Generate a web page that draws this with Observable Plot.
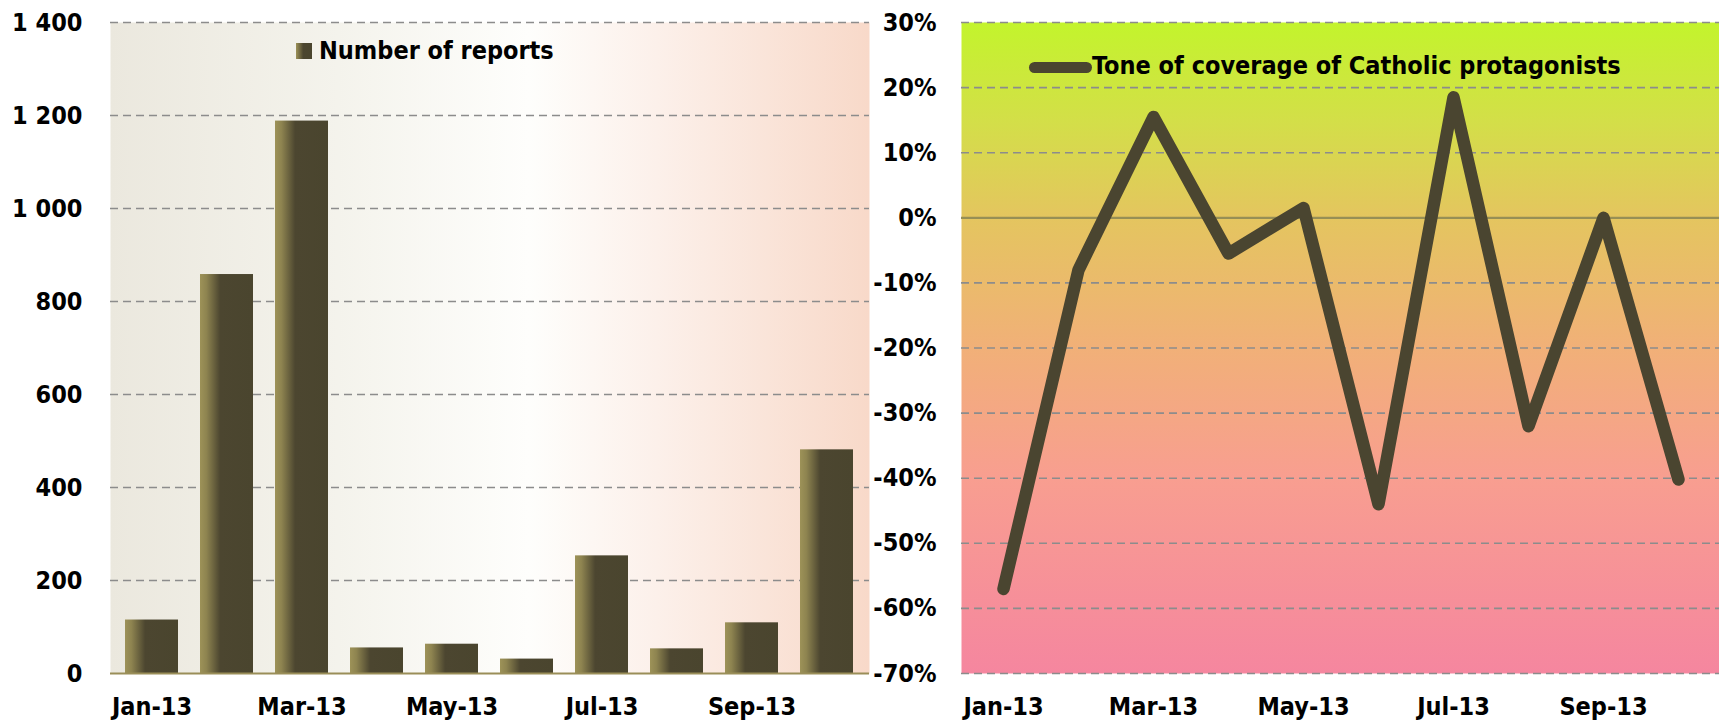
<!DOCTYPE html>
<html>
<head>
<meta charset="utf-8">
<script src="https://cdn.jsdelivr.net/npm/d3@7"></script>
<script src="https://cdn.jsdelivr.net/npm/@observablehq/plot@0.6"></script>
<style>
  html, body { margin: 0; padding: 0; background: #ffffff; }
  #wrap { position: relative; width: 1719px; height: 721px; overflow: hidden; background: #fff; }
  #wrap svg.chart { position: absolute; top: 0; }
  .txt, #wrap svg text {
    font-family: "DejaVu Sans Condensed", "DejaVu Sans", sans-serif;
    font-stretch: condensed;
    font-weight: bold;
    font-size: 25px;
    fill: #000;
    color: #000;
  }
  .leg { position: absolute; white-space: nowrap; line-height: 25px; }
</style>
</head>
<body>
<div id="wrap">
  <svg width="0" height="0" style="position:absolute">
    <defs>
      <linearGradient id="barGrad" x1="0" y1="0" x2="1" y2="0">
        <stop offset="0" stop-color="#9D9258"/>
        <stop offset="0.12" stop-color="#8E8450"/>
        <stop offset="0.38" stop-color="#4C4630"/>
        <stop offset="1" stop-color="#4A452E"/>
      </linearGradient>
      <linearGradient id="leftBg" x1="0" y1="0" x2="1" y2="0">
        <stop offset="0" stop-color="#EBE8DE"/>
        <stop offset="0.3" stop-color="#F4F3EC"/>
        <stop offset="0.55" stop-color="#FEFEFC"/>
        <stop offset="0.72" stop-color="#FCF0EA"/>
        <stop offset="1" stop-color="#F8D9C9"/>
      </linearGradient>
      <linearGradient id="rightBg" x1="0" y1="0" x2="0" y2="1">
        <stop offset="0" stop-color="#C3F42C"/>
        <stop offset="0.15" stop-color="#D3DF48"/>
        <stop offset="0.3" stop-color="#E4C55F"/>
        <stop offset="0.5" stop-color="#F1B078"/>
        <stop offset="0.7" stop-color="#F89E90"/>
        <stop offset="1" stop-color="#F5869F"/>
      </linearGradient>
    </defs>
  </svg>
</div>
<script>
// ---- data ----
const months = ["Jan-13","Feb-13","Mar-13","Apr-13","May-13","Jun-13","Jul-13","Aug-13","Sep-13","Oct-13"];
const reports = [115, 858, 1188, 55, 63, 31, 253, 53, 109, 481];
const tone = [-57, -8, 15.5, -5.5, 1.5, -44, 18.5, -32, 0, -40.2];
const xTickLabels = ["Jan-13","Mar-13","May-13","Jul-13","Sep-13"];
const reportTicks = [0, 200, 400, 600, 800, 1000, 1200, 1400];
const toneTicks = [-70, -60, -50, -40, -30, -20, -10, 0, 10, 20, 30];
const seriesNames = ["Number of reports", "Tone of coverage of Catholic protagonists"];

const barData = months.map((m, i) => ({month: m, value: reports[i]}));
const lineData = months.map((m, i) => ({month: m, value: tone[i]}));

const spaceFmt = d3.formatLocale({decimal: ",", thousands: " ", grouping: [3], currency: ["", ""]}).format(",");
const xFmt = d => xTickLabels.includes(d) ? d : "";

const gridStyle = {stroke: "#8C8C8C", strokeWidth: 1.6, strokeDasharray: "8,5", strokeOpacity: 1};

const left = Plot.plot({
  width: 870, height: 721,
  marginLeft: 110, marginRight: 1, marginTop: 22, marginBottom: 48,
  style: {background: "transparent", overflow: "visible"},
  x: {domain: months, paddingInner: 0.29, paddingOuter: 0.145, tickSize: 0, tickPadding: 24, tickFormat: xFmt, label: null},
  y: {domain: [0, 1400], ticks: reportTicks, tickFormat: spaceFmt, tickSize: 0, tickPadding: 28, label: null},
  marks: [
    Plot.frame({fill: "url(#leftBg)", stroke: "none"}),
    Plot.ruleY(reportTicks.filter(d => d !== 0), gridStyle),
    Plot.barY(barData, {x: "month", y: "value", fill: "url(#barGrad)"}),
    Plot.ruleY([0], {stroke: "#9A8E58", strokeWidth: 2.2})
  ]
});
left.classList.add("chart");
left.style.left = "0px";

const right = Plot.plot({
  width: 849, height: 721,
  marginLeft: 91, marginRight: 0, marginTop: 22, marginBottom: 48,
  style: {background: "transparent", overflow: "visible"},
  x: {type: "point", domain: months, padding: 0.5, tickSize: 0, tickPadding: 24, tickFormat: xFmt, label: null},
  y: {domain: [-70, 30], ticks: toneTicks, tickFormat: d => d + "%", tickSize: 0, tickPadding: 25, label: null},
  marks: [
    Plot.frame({fill: "url(#rightBg)", stroke: "none"}),
    Plot.ruleY(toneTicks.filter(d => d !== 0), gridStyle),
    Plot.ruleY([0], {stroke: "#978F55", strokeWidth: 2.2}),
    Plot.line(lineData, {x: "month", y: "value", stroke: "#4A4530", strokeWidth: 12.5, strokeLinejoin: "round", strokeLinecap: "round"})
  ]
});
right.classList.add("chart");
right.style.left = "870px";

const wrap = document.getElementById("wrap");
wrap.appendChild(left);
wrap.appendChild(right);

// legends
const sq = document.createElement("div");
sq.style.cssText = "position:absolute;left:296px;top:43px;width:16px;height:16px;background:linear-gradient(to right,#9D9258 0%,#4C4630 45%,#4A452E 100%);";
wrap.appendChild(sq);
const l1 = document.createElement("div");
l1.className = "leg txt";
l1.style.left = "319px"; l1.style.top = "38px";
l1.textContent = seriesNames[0];
wrap.appendChild(l1);

const ln = document.createElement("div");
ln.style.cssText = "position:absolute;left:1029px;top:61.5px;width:63px;height:11px;border-radius:5.5px;background:#4A4530;";
wrap.appendChild(ln);
const l2 = document.createElement("div");
l2.className = "leg txt";
l2.style.left = "1092px"; l2.style.top = "53px";
l2.textContent = seriesNames[1];
wrap.appendChild(l2);
</script>
</body>
</html>
